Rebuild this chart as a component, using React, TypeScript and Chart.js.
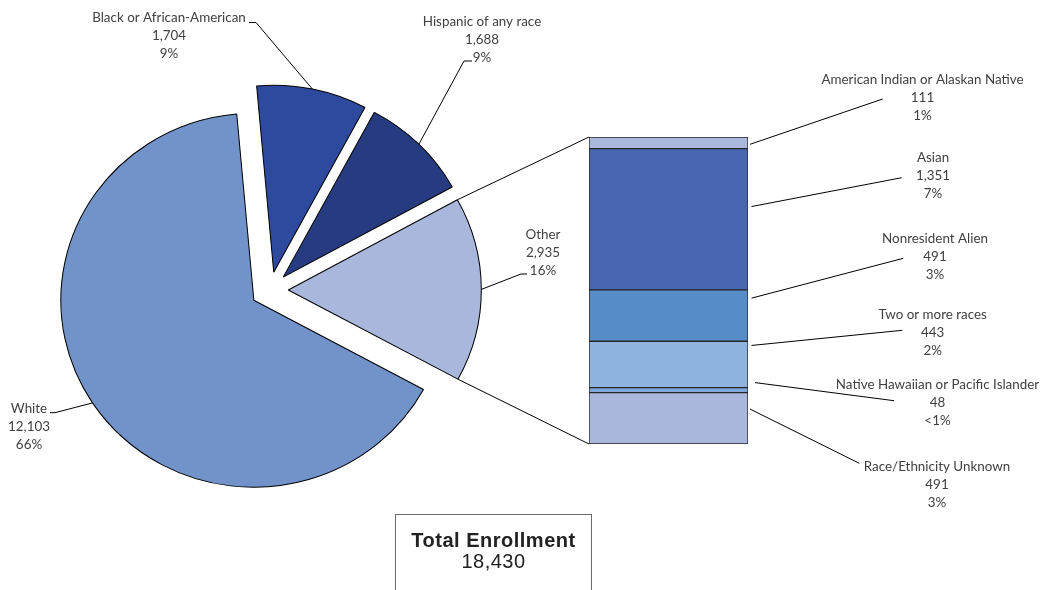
import React, { useEffect, useRef } from 'react';
import { Chart, registerables } from 'chart.js';

Chart.register(...registerables);

// ---------- DATA ----------
const pieLabels = ['White', 'Black or African-American', 'Hispanic of any race', 'Other'];
const pieValues = [12103, 1704, 1688, 2935];
const piePercents = ['66%', '9%', '9%', '16%'];

const barLabels = [
  'American Indian or Alaskan Native',
  'Asian',
  'Nonresident Alien',
  'Two or more races',
  'Native Hawaiian or Pacific Islander',
  'Race/Ethnicity Unknown',
];
const barValues = [111, 1351, 491, 443, 48, 491];
const barPercents = ['1%', '7%', '3%', '2%', '<1%', '3%'];

const totalLabel = 'Total Enrollment';
const totalValue = 18430;

// ---------- STYLE / LAYOUT ----------
const W = 1042;
const H = 590;
const FONT = '13.4px Lato';
const TEXT_COLOR = '#404040';
const LINE_H = 18;

const PIE_PAD = { left: 70, right: 572, top: 90, bottom: 100 };
const PIE_CENTER = { x: 270, y: 290 };
const PIE_SCALE = { x: 1.016, y: 0.984 };
const PIE_RADIUS = 190;
const PIE_ROTATION = 118.5;
const PIE_EXPLODE = [19, 18.4, 18.4, 18];
const pieColors = ['#7292CA', '#2E4A9F', '#273C80', '#AAB7DC'];

const BAR_PAD = { left: 589, right: 294, top: 137, bottom: 146 };
const barColors = ['#AAB7DC', '#4967B0', '#568CC8', '#8EB3DF', '#7FA7D9', '#AAB7DC'];

const pieLabelLayout = [
  { x: 29, y: 408.3, leader: [[50, 412.7], [55, 412.7]] },
  { x: 169, y: 17.5, leader: [[249, 22.5], [256, 22.5]] },
  { x: 482, y: 21.3, leader: [[472, 61], [464, 61]] },
  { x: 543, y: 235, leader: [[527, 274], [521, 274]] },
];

const barLabelLayout = [
  { x: 922.5, y: 79.3, frac: 0.63, dx: 2, end: [882.7, 99] },
  { x: 933, y: 157.3, frac: 0.41, dx: 3.5, end: [901.7, 177.7] },
  { x: 935, y: 239, frac: 0.16, dx: 3.5, end: [903.3, 258.3] },
  { x: 932.7, y: 314.3, frac: 0.09, dx: 3.5, end: [902.3, 330.3] },
  { x: 937.5, y: 385, frac: -1, dx: 7, end: [894, 400.7] },
  { x: 937, y: 466.7, frac: 0.32, dx: 2, end: [859.3, 463.3] },
];

const fmt = (v: number) => v.toLocaleString('en-US');
const mapPt = (x: number, y: number): [number, number] => [
  PIE_CENTER.x + (x - PIE_CENTER.x) * PIE_SCALE.x,
  PIE_CENTER.y + (y - PIE_CENTER.y) * PIE_SCALE.y,
];

export default function App() {
  const pieRef = useRef<HTMLCanvasElement>(null);
  const barRef = useRef<HTMLCanvasElement>(null);

  useEffect(() => {
    const explodePlugin = {
      id: 'explode',
      afterDatasetUpdate(chart: any, args: any) {
        const meta = args.meta;
        meta.data.forEach((arc: any, i: number) => {
          const mid = (arc.startAngle + arc.endAngle) / 2;
          const d = PIE_EXPLODE[i] || 0;
          arc.x += Math.cos(mid) * d;
          arc.y += Math.sin(mid) * d;
        });
      },
      beforeDatasetsDraw(chart: any) {
        const ctx = chart.ctx;
        ctx.save();
        ctx.translate(PIE_CENTER.x, PIE_CENTER.y);
        ctx.scale(PIE_SCALE.x, PIE_SCALE.y);
        ctx.translate(-PIE_CENTER.x, -PIE_CENTER.y);
      },
      afterDatasetsDraw(chart: any) {
        chart.ctx.restore();
      },
    };

    const pie = new Chart(pieRef.current!, {
      type: 'pie',
      data: {
        labels: pieLabels,
        datasets: [
          {
            data: pieValues,
            backgroundColor: pieColors,
            borderColor: '#000',
            borderWidth: 1,
            radius: PIE_RADIUS,
            rotation: PIE_ROTATION,
          } as any,
        ],
      },
      options: {
        animation: false,
        responsive: false,
        rotation: PIE_ROTATION,
        layout: { padding: PIE_PAD },
        plugins: { legend: { display: false }, tooltip: { enabled: false } },
        events: [],
      } as any,
      plugins: [explodePlugin],
    });

    const barTotal = barValues.reduce((a, b) => a + b, 0);
    const order = barValues.map((_, i) => i).reverse(); // bottom -> top

    const overlayPlugin = {
      id: 'overlay',
      afterDraw(chart: any) {
        const ctx = chart.ctx;
        const pieMeta = pie.getDatasetMeta(0);
        const arcs: any[] = pieMeta.data as any;

        const nSets = chart.data.datasets.length;
        const segs: { [k: number]: any } = {};
        for (let d = 0; d < nSets; d++) {
          segs[order[d]] = chart.getDatasetMeta(d).data[0];
        }
        const topEl = segs[0];
        const botEl = segs[barValues.length - 1];
        const barLeft = topEl.x - topEl.width / 2;
        const barRight = topEl.x + topEl.width / 2;
        const barTop = topEl.y;
        const barBottom = botEl.base;

        ctx.save();
        ctx.strokeStyle = '#000';
        ctx.lineWidth = 1;

        // connectors from "Other" slice to bar
        const other = arcs[3];
        const r = other.outerRadius;
        const p1 = mapPt(other.x + Math.cos(other.startAngle) * r, other.y + Math.sin(other.startAngle) * r);
        const p2 = mapPt(other.x + Math.cos(other.endAngle) * r, other.y + Math.sin(other.endAngle) * r);
        ctx.beginPath();
        ctx.moveTo(p1[0], p1[1]);
        ctx.lineTo(barLeft, barTop);
        ctx.moveTo(p2[0], p2[1]);
        ctx.lineTo(barLeft, barBottom);
        ctx.stroke();

        ctx.font = FONT;
        ctx.textAlign = 'center';
        ctx.textBaseline = 'middle';

        // pie labels
        pieLabels.forEach((lab, i) => {
          const L = pieLabelLayout[i];
          const arc = arcs[i];
          const mid = (arc.startAngle + arc.endAngle) / 2;
          const e = mapPt(arc.x + Math.cos(mid) * arc.outerRadius, arc.y + Math.sin(mid) * arc.outerRadius);
          ctx.beginPath();
          ctx.moveTo(L.leader[0][0], L.leader[0][1]);
          for (let k = 1; k < L.leader.length; k++) ctx.lineTo(L.leader[k][0], L.leader[k][1]);
          ctx.lineTo(e[0], e[1]);
          ctx.stroke();
          ctx.fillStyle = TEXT_COLOR;
          ctx.fillText(lab, L.x, L.y);
          ctx.fillText(fmt(pieValues[i]), L.x, L.y + LINE_H);
          ctx.fillText(piePercents[i], L.x, L.y + 2 * LINE_H);
        });

        // bar labels
        barLabels.forEach((lab, i) => {
          const L = barLabelLayout[i];
          const el = segs[i];
          const sy = el.y + (el.base - el.y) * L.frac;
          ctx.beginPath();
          ctx.moveTo(barRight + L.dx, sy);
          ctx.lineTo(L.end[0], L.end[1]);
          ctx.stroke();
          ctx.fillStyle = TEXT_COLOR;
          ctx.fillText(lab, L.x, L.y);
          ctx.fillText(fmt(barValues[i]), L.x, L.y + LINE_H);
          ctx.fillText(barPercents[i], L.x, L.y + 2 * LINE_H);
        });
        ctx.restore();
      },
    };

    const bar = new Chart(barRef.current!, {
      type: 'bar',
      data: {
        labels: ['Other'],
        datasets: order.map((i) => ({
          label: barLabels[i],
          data: [barValues[i]],
          backgroundColor: barColors[i],
          borderColor: '#262626',
          borderWidth: 1,
          borderSkipped: false,
          barPercentage: 1,
          categoryPercentage: 1,
          stack: 'other',
        })) as any,
      },
      options: {
        animation: false,
        responsive: false,
        layout: { padding: BAR_PAD },
        plugins: { legend: { display: false }, tooltip: { enabled: false } },
        events: [],
        scales: {
          x: { display: false, stacked: true },
          y: { display: false, stacked: true, min: 0, max: barTotal },
        },
      } as any,
      plugins: [overlayPlugin],
    });

    return () => {
      bar.destroy();
      pie.destroy();
    };
  }, []);

  return (
    <div style={{ position: 'absolute', left: 0, top: 0, width: W, height: H, overflow: 'hidden', background: '#fff' }}>
      <canvas ref={pieRef} width={W} height={H} style={{ position: 'absolute', left: 0, top: 0, width: W, height: H }} />
      <canvas ref={barRef} width={W} height={H} style={{ position: 'absolute', left: 0, top: 0, width: W, height: H }} />
      <div
        style={{
          position: 'absolute',
          left: 395,
          top: 514,
          width: 197,
          height: 90,
          border: '1px solid #6b6b6b',
          boxSizing: 'border-box',
          fontFamily: '"Liberation Sans", Arial, sans-serif',
          color: '#222',
          textAlign: 'center',
        }}
      >
        <div style={{ position: 'absolute', left: 0, right: 0, top: 14, fontSize: 20, fontWeight: 'bold', lineHeight: '22px', letterSpacing: '0.5px' }}>
          {totalLabel}
        </div>
        <div style={{ position: 'absolute', left: 0, right: 0, top: 35, fontSize: 20, lineHeight: '22px', letterSpacing: '0.5px' }}>
          {fmt(totalValue)}
        </div>
      </div>
    </div>
  );
}
